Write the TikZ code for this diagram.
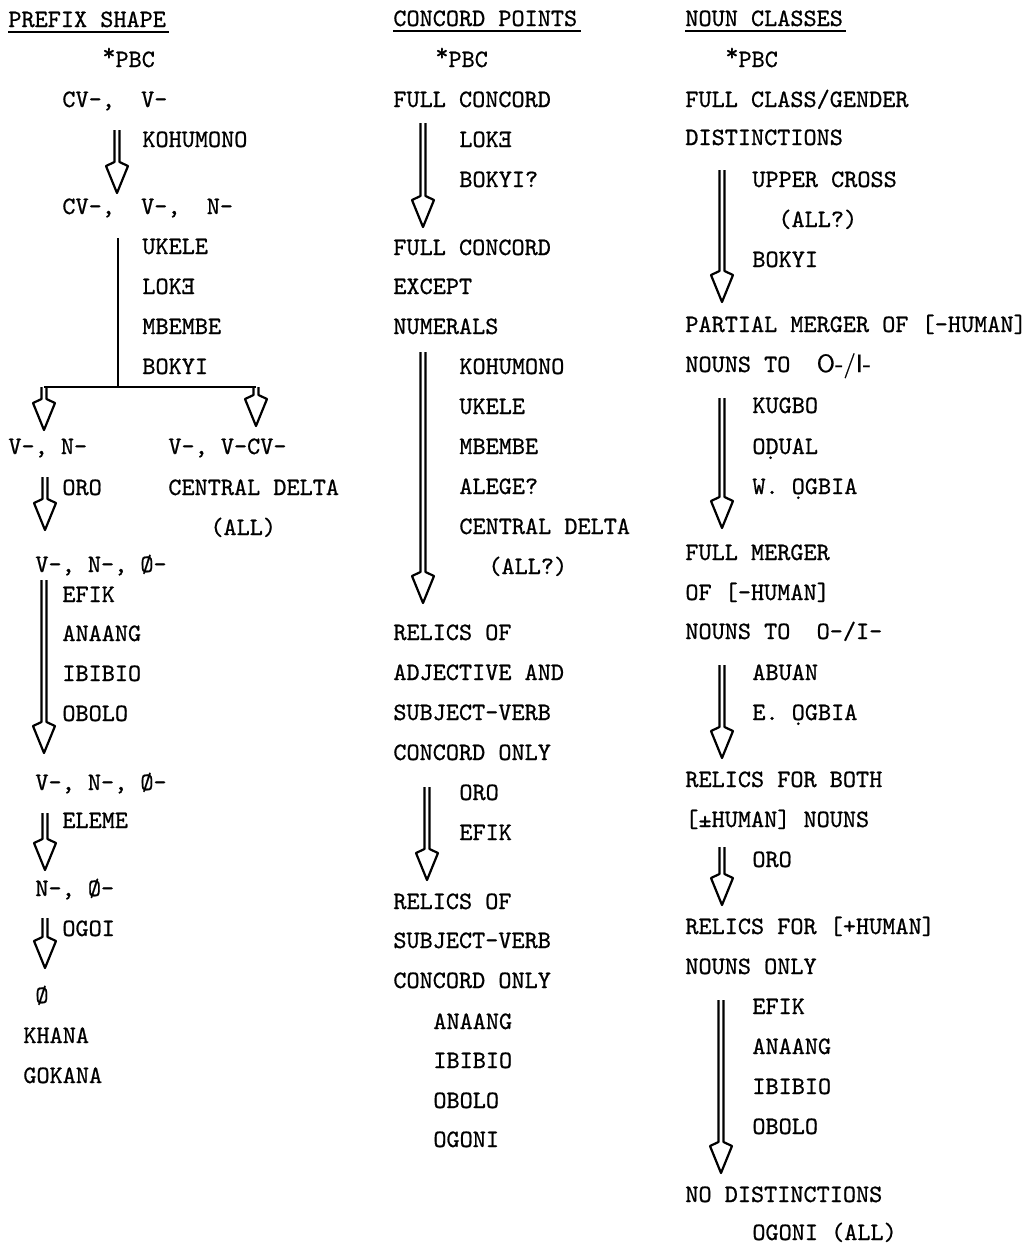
\documentclass[tikz,border=0pt]{standalone}
\usepackage{fontspec}
\usepackage{graphicx}
\usetikzlibrary{calc}
\newfontfamily\tw{lmmono10-regular.otf}[FakeBold=0.7]
\newfontfamily\tws{lmsans10-regular.otf}[FakeBold=0.5]
\newcommand\revE{\reflectbox{E}}
\newcommand\pbc{\raisebox{.25em}{*}PBC}
\newcommand\hollowarrow[2]{%
  \draw[harr] ($(#1)+(-2.5,0)$) -- ($(#2)+(-2.5,-31)$) -- ($(#2)+(-11,-27)$)
    -- (#2) -- ($(#2)+(11,-27)$) -- ($(#2)+(2.5,-31)$) -- ($(#1)+(2.5,0)$);}
\tikzset{
  lbl/.style={anchor=base west, inner sep=0pt, font=\fontsize{12.5}{15}\selectfont\tw},
  harr/.style={line width=1.1pt, line join=round},
  uline/.style={line width=1pt},
  branch/.style={line width=1.3pt}
}
\begin{document}
\begin{tikzpicture}[x=0.5pt,y=-0.5pt]
\useasboundingbox (0,0) rectangle (1026,1244);
% ---------------- Column 1: PREFIX SHAPE
\node[lbl] (h1) at (8,27) {PREFIX SHAPE};
\draw[uline] ([yshift=-2.5pt]h1.base west) -- ([xshift=1.5pt,yshift=-2.5pt]h1.base east);
\node[lbl] (a0) at (102,67) {\pbc};
\node[lbl] (a1) at (62,107) {CV-,~~V-};
\node[lbl] (a1l) at (142,147) {KOHUMONO};
\node[lbl] (a2) at (62,214) {CV-,~~V-,~~N-};
\node[lbl] (a2l1) at (142,254) {UKELE};
\node[lbl] (a2l2) at (142,294) {LOK\revE};
\node[lbl] (a2l3) at (142,334) {MBEMBE};
\node[lbl] (a2l4) at (142,374) {BOKYI};
\node[lbl] (a3) at (8,454) {V-, N-};
\node[lbl] (b3) at (168,454) {V-, V-CV-};
\node[lbl] (a3l) at (62,495) {ORO};
\node[lbl] (b3l1) at (168,495) {CENTRAL DELTA};
\node[lbl] (b3l2) at (210,535) {(ALL)};
\node[lbl] (a4) at (35,572) {V-, N-, Ø-};
\node[lbl] (a4l1) at (62,602) {EFIK};
\node[lbl] (a4l2) at (62,641) {ANAANG};
\node[lbl] (a4l3) at (62,681) {IBIBIO};
\node[lbl] (a4l4) at (62,721) {OBOLO};
\node[lbl] (a5) at (35,790) {V-, N-, Ø-};
\node[lbl] (a5l) at (62,828) {ELEME};
\node[lbl] (a6) at (35,896) {N-, Ø-};
\node[lbl] (a6l) at (62,936) {OGOI};
\node[lbl] (a7) at (35,1003) {Ø};
\node[lbl] (a7l1) at (23,1043) {KHANA};
\node[lbl] (a7l2) at (23,1083) {GOKANA};
% arrows column 1
\coordinate (s1) at (117,130); \coordinate (e1) at (117,193);
\hollowarrow{s1}{e1}
\coordinate (br0) at (118,238); \coordinate (brj) at (118,387);
\coordinate (brl) at (44,387); \coordinate (brr) at (256,387);
\draw[branch] (br0) -- (brj);
\draw[branch] (brl) -- (brr);
\coordinate (el) at (44,430); \coordinate (er) at (256,426);
\hollowarrow{brl}{el}
\hollowarrow{brr}{er}
\coordinate (s4) at (45,477); \coordinate (e4) at (45,530);
\hollowarrow{s4}{e4}
\coordinate (s5) at (44,580); \coordinate (e5) at (44,753);
\hollowarrow{s5}{e5}
\coordinate (s6) at (45,813); \coordinate (e6) at (45,870);
\hollowarrow{s6}{e6}
\coordinate (s7) at (45,918); \coordinate (e7) at (45,968);
\hollowarrow{s7}{e7}
% ---------------- Column 2: CONCORD POINTS
\node[lbl] (h2) at (393,26) {CONCORD POINTS};
\draw[uline] ([yshift=-2.5pt]h2.base west) -- ([xshift=1.5pt,yshift=-2.5pt]h2.base east);
\node[lbl] (c0) at (435,67) {\pbc};
\node[lbl] (c1) at (393,107) {FULL CONCORD};
\node[lbl] (c1l1) at (459,147) {LOK\revE};
\node[lbl] (c1l2) at (459,187) {BOKYI?};
\node[lbl] (c2a) at (393,255) {FULL CONCORD};
\node[lbl] (c2b) at (393,294) {EXCEPT};
\node[lbl] (c2c) at (393,334) {NUMERALS};
\node[lbl] (c2l1) at (459,374) {KOHUMONO};
\node[lbl] (c2l2) at (459,414) {UKELE};
\node[lbl] (c2l3) at (459,454) {MBEMBE};
\node[lbl] (c2l4) at (459,494) {ALEGE?};
\node[lbl] (c2l5) at (459,534) {CENTRAL DELTA};
\node[lbl] (c2l6) at (488,574) {(ALL?)};
\node[lbl] (c3a) at (393,640) {RELICS OF};
\node[lbl] (c3b) at (393,680) {ADJECTIVE AND};
\node[lbl] (c3c) at (393,720) {SUBJECT-VERB};
\node[lbl] (c3d) at (393,760) {CONCORD ONLY};
\node[lbl] (c3l1) at (459,800) {ORO};
\node[lbl] (c3l2) at (459,840) {EFIK};
\node[lbl] (c4a) at (393,909) {RELICS OF};
\node[lbl] (c4b) at (393,948) {SUBJECT-VERB};
\node[lbl] (c4c) at (393,988) {CONCORD ONLY};
\node[lbl] (c4l1) at (433,1029) {ANAANG};
\node[lbl] (c4l2) at (433,1068) {IBIBIO};
\node[lbl] (c4l3) at (433,1108) {OBOLO};
\node[lbl] (c4l4) at (433,1147) {OGONI};
\coordinate (t1) at (423,123); \coordinate (u1) at (423,227);
\hollowarrow{t1}{u1}
\coordinate (t2) at (423,352); \coordinate (u2) at (423,603);
\hollowarrow{t2}{u2}
\coordinate (t3) at (427,787); \coordinate (u3) at (427,880);
\hollowarrow{t3}{u3}
% ---------------- Column 3: NOUN CLASSES
\node[lbl] (h3) at (685,26) {NOUN CLASSES};
\draw[uline] ([yshift=-2.5pt]h3.base west) -- ([xshift=1.5pt,yshift=-2.5pt]h3.base east);
\node[lbl] (n0) at (725,67) {\pbc};
\node[lbl] (n1a) at (685,107) {FULL CLASS/GENDER};
\node[lbl] (n1b) at (685,145) {DISTINCTIONS};
\node[lbl] (n1l1) at (752,187) {UPPER CROSS};
\node[lbl] (n1l2) at (778,227) {(ALL?)};
\node[lbl] (n1l3) at (752,267) {BOKYI};
\node[lbl] (n2a) at (685,332) {PARTIAL MERGER OF [-HUMAN]};
\node[lbl] (n2b) at (685,372) {NOUNS TO~~{\tws O-/I-}};
\node[lbl] (n2l1) at (752,413) {KUGBO};
\node[lbl] (n2l2) at (752,454) {O\d{D}UAL};
\node[lbl] (n2l3) at (752,494) {W. \d{O}GBIA};
\node[lbl] (n3a) at (685,560) {FULL MERGER};
\node[lbl] (n3b) at (685,600) {OF [-HUMAN]};
\node[lbl] (n3c) at (685,639) {NOUNS TO~~O-/I-};
\node[lbl] (n3l1) at (752,680) {ABUAN};
\node[lbl] (n3l2) at (752,720) {E. \d{O}GBIA};
\node[lbl] (n4a) at (685,787) {RELICS FOR BOTH};
\node[lbl] (n4b) at (685,827) {[±HUMAN] NOUNS};
\node[lbl] (n4l) at (752,867) {ORO};
\node[lbl] (n5a) at (685,934) {RELICS FOR [+HUMAN]};
\node[lbl] (n5b) at (685,974) {NOUNS ONLY};
\node[lbl] (n5l1) at (752,1014) {EFIK};
\node[lbl] (n5l2) at (752,1054) {ANAANG};
\node[lbl] (n5l3) at (752,1094) {IBIBIO};
\node[lbl] (n5l4) at (752,1134) {OBOLO};
\node[lbl] (n6) at (685,1202) {NO DISTINCTIONS};
\node[lbl] (n6l) at (752,1240) {OGONI (ALL)};
\coordinate (v1) at (722,170); \coordinate (w1) at (722,302);
\hollowarrow{v1}{w1}
\coordinate (v2) at (722,398); \coordinate (w2) at (722,528);
\hollowarrow{v2}{w2}
\coordinate (v3) at (722,665); \coordinate (w3) at (722,758);
\hollowarrow{v3}{w3}
\coordinate (v4) at (722,847); \coordinate (w4) at (722,905);
\hollowarrow{v4}{w4}
\coordinate (v5) at (721,1000); \coordinate (w5) at (721,1173);
\hollowarrow{v5}{w5}
\end{tikzpicture}
\end{document}
